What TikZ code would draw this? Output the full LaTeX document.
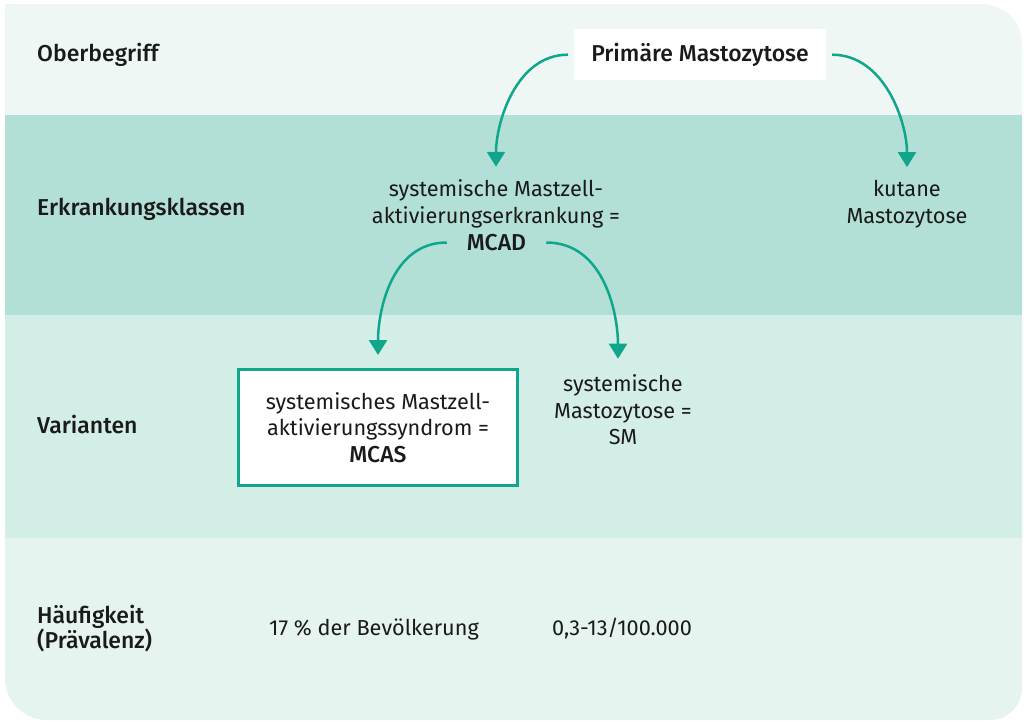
\documentclass[tikz,border=0pt]{standalone}
\usepackage{fontspec}
\setmainfont{Fira Sans}[BoldFont={Fira Sans Medium}]
\usetikzlibrary{arrows.meta}

\definecolor{zeileA}{HTML}{EEF7F4}
\definecolor{zeileB}{HTML}{B3E0D6}
\definecolor{zeileC}{HTML}{D3EDE7}
\definecolor{zeileD}{HTML}{E6F4F0}
\definecolor{gruen}{HTML}{0FA68C}
\definecolor{schrift}{HTML}{1A1A1A}

\newcommand\grundschrift{\fontsize{21.7}{26.5}\selectfont}
\newcommand\fettschrift{\fontsize{23}{26.5}\selectfont\bfseries}

\tikzset{
  zeilenkopf/.style={anchor=west, inner sep=0pt, align=left, font=\fettschrift, text=schrift},
  eintrag/.style={inner sep=0pt, align=center, font=\grundschrift, text=schrift},
  pfeil/.style={draw=gruen, line width=2.5pt, -{Triangle[width=18pt,length=15pt]}, shorten >=13pt},
}

\begin{document}
\begin{tikzpicture}[x=1pt, y=1pt]
  \useasboundingbox (0,0) rectangle (1024,-721);

  % Hintergrund mit Zeilen
  \begin{scope}
    \clip (5,-4) -- (982,-4) arc[start angle=90, end angle=0, radius=40]
      -- (1022,-688) arc[start angle=0, end angle=-90, radius=32]
      -- (47,-720) arc[start angle=270, end angle=180, radius=42] -- cycle;
    \fill[zeileA] (0,0) rectangle (1024,-115);
    \fill[zeileB] (0,-115) rectangle (1024,-315);
    \fill[zeileC] (0,-315) rectangle (1024,-538);
    \fill[zeileD] (0,-538) rectangle (1024,-721);
  \end{scope}

  % Zeilenkoepfe
  \node[zeilenkopf] (oberbegriff) at (37,-55) {Oberbegriff};
  \node[zeilenkopf] (klassen) at (37,-209) {Erkrankungsklassen};
  \node[zeilenkopf] (varianten) at (37,-424) {Varianten};
  \node[zeilenkopf, font=\fontsize{23}{25}\selectfont\bfseries] (haeufigkeit) at (37,-629) {Häufigkeit\\(Prävalenz)};

  % Inhalte
  \node[eintrag, font=\fettschrift, fill=white, minimum width=252pt, minimum height=51pt] (primaer) at (700,-54.7) {Primäre Mastozytose};
  \node[eintrag] (mcad) at (496,-204) {systemische Mastzell-\\aktivierungserkrankung =};
  \node[eintrag, font=\fettschrift, inner xsep=20pt] (mcadabk) at (496.5,-242.5) {MCAD};
  \node[eintrag] (kutan) at (907,-204) {kutane\\Mastozytose};
  \node[eintrag, draw=gruen, line width=3pt, fill=white, minimum width=279pt, minimum height=116pt] (mcas) at (378,-427.5) {systemisches Mastzell-\\aktivierungssyndrom =\\{\fettschrift MCAS}};
  \node[eintrag] (sm) at (623,-410) {systemische\\Mastozytose =\\SM};
  \node[eintrag] (praevmcas) at (374,-629) {17 \% der Bevölkerung};
  \node[eintrag] (praevsm) at (622,-629) {0,3-13/100.000};

  % Pfeile
  \draw[pfeil, shorten <=6pt] (primaer.west) to[out=180, in=90] (mcad.north);
  \draw[pfeil, shorten <=6pt] (primaer.east) to[out=0, in=90] (kutan.north);
  \draw[pfeil] (mcadabk.west) to[out=180, in=90] (mcas.north);
  \draw[pfeil, shorten >=16pt] (mcadabk.east) to[out=0, in=90] ([xshift=-5pt]sm.north);
\end{tikzpicture}
\end{document}
